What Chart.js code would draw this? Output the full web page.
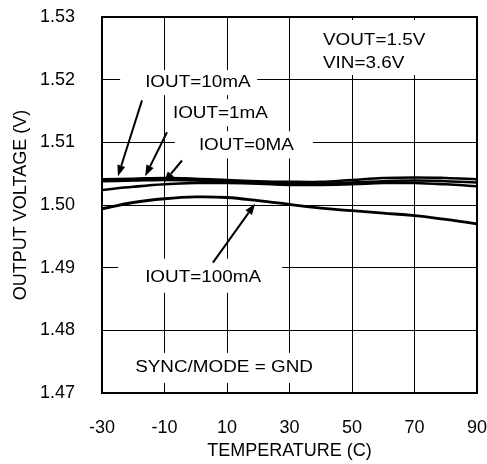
<!DOCTYPE html>
<html><head><meta charset="utf-8">
<script src="https://cdn.jsdelivr.net/npm/chart.js@4/dist/chart.umd.min.js"></script>
<style>html,body{margin:0;padding:0;background:#fff}canvas{display:block}</style>
</head><body>
<canvas id="c" width="487" height="464" style="width:487px;height:464px"></canvas>
<script>
const temperatures = [-30, -20, -10, 0, 10, 20, 30, 40, 50, 60, 70, 80, 90];
const iout10mA  = [1.5041, 1.5042, 1.5043, 1.5042, 1.5040, 1.5038, 1.5037, 1.5037, 1.5040, 1.5043, 1.5044, 1.5043, 1.5041];
const iout1mA   = [1.5038, 1.5039, 1.5040, 1.5039, 1.5037, 1.5035, 1.5033, 1.5034, 1.5036, 1.5038, 1.5039, 1.5038, 1.5036];
const iout0mA   = [1.5024, 1.5029, 1.5033, 1.5035, 1.5035, 1.5034, 1.5032, 1.5032, 1.5033, 1.5035, 1.5035, 1.5033, 1.5030];
const iout100mA = [1.4994, 1.5004, 1.5010, 1.5013, 1.5012, 1.5007, 1.5001, 1.4995, 1.4991, 1.4987, 1.4983, 1.4977, 1.4970];
const xTicks = [-30, -10, 10, 30, 50, 70, 90];
const yTicks = [1.47, 1.48, 1.49, 1.50, 1.51, 1.52, 1.53];

const FONT = '"Liberation Sans", Arial, Helvetica, sans-serif';

// annotation labels: anchor (left edge, middle) in data units, white box offsets in px
const labelDefs = [
  {text: 'VOUT=1.5V', t: 40.7, v: 1.52616, box: [-8, -21, 105, 55]},
  {text: 'VIN=3.6V', t: 40.7, v: 1.52264, box: null},
  {text: 'IOUT=10mA', t: -16.2, v: 1.5196, box: [-25, -12, 137, 25]},
  {text: 'IOUT=1mA', t: -7.3, v: 1.51464, box: [-5, -14, 107, 27]},
  {text: 'IOUT=0MA', t: 1.0, v: 1.50952, box: [-24, -14, 138, 27]},
  {text: 'IOUT=100mA', t: -16.2, v: 1.4884, box: [-27, -19, 164, 34]},
  {text: 'SYNC/MODE = GND', t: -19.4, v: 1.474, box: [-10, -15, 197, 30]}
];
const arrowDefs = [
  {from: [-17.2, 1.5167], to: [-24.9, 1.5046]},
  {from: [-9.2, 1.5116], to: [-16.2, 1.5046]},
  {from: [-4.4, 1.5071], to: [-10.2, 1.5036]},
  {from: [5.5, 1.4908], to: [19.0, 1.5002]}
];

const annot = {
  id: 'annot',
  afterDraw(chart) {
    const {ctx, chartArea: a, scales: {x, y}} = chart;
    ctx.save();
    ctx.strokeStyle = '#000';
    ctx.lineWidth = 2;
    ctx.strokeRect(a.left, a.top, a.right - a.left, a.bottom - a.top);
    ctx.font = '16px ' + FONT;
    ctx.textBaseline = 'middle';
    ctx.textAlign = 'left';
    labelDefs.forEach(d => {
      const px = x.getPixelForValue(d.t), py = y.getPixelForValue(d.v);
      if (d.box) {
        ctx.fillStyle = '#fff';
        ctx.fillRect(px + d.box[0], py + d.box[1], d.box[2], d.box[3]);
      }
    });
    labelDefs.forEach(d => {
      const px = x.getPixelForValue(d.t), py = y.getPixelForValue(d.v);
      ctx.save();
      ctx.translate(px, py);
      ctx.scale(1.18, 1);
      ctx.fillStyle = '#000';
      ctx.fillText(d.text, 0, 0);
      ctx.restore();
    });
    arrowDefs.forEach(d => {
      const x0 = x.getPixelForValue(d.from[0]), y0 = y.getPixelForValue(d.from[1]);
      const x1 = x.getPixelForValue(d.to[0]), y1 = y.getPixelForValue(d.to[1]);
      const ang = Math.atan2(y1 - y0, x1 - x0);
      const L = 11, W = 4;
      const bx = x1 - L * Math.cos(ang), by = y1 - L * Math.sin(ang);
      ctx.strokeStyle = '#000';
      ctx.lineWidth = 2;
      ctx.beginPath();
      ctx.moveTo(x0, y0);
      ctx.lineTo(bx, by);
      ctx.stroke();
      ctx.fillStyle = '#000';
      ctx.beginPath();
      ctx.moveTo(x1, y1);
      ctx.lineTo(bx + W * Math.sin(ang), by - W * Math.cos(ang));
      ctx.lineTo(bx - W * Math.sin(ang), by + W * Math.cos(ang));
      ctx.closePath();
      ctx.fill();
    });
    ctx.restore();
  }
};

function series(vals, w) {
  return {
    data: temperatures.map((t, i) => ({x: t, y: vals[i]})),
    borderColor: '#000', borderWidth: w, pointRadius: 0, tension: 0.4, fill: false
  };
}

new Chart(document.getElementById('c'), {
  type: 'line',
  data: {
    datasets: [
      series(iout10mA, 2.6),
      series(iout1mA, 2.6),
      series(iout0mA, 2.6),
      series(iout100mA, 2.8)
    ]
  },
  options: {
    responsive: false,
    animation: false,
    devicePixelRatio: 1,
    layout: {padding: {top: 17, right: 10, left: 0, bottom: 0}},
    plugins: {legend: {display: false}, tooltip: {enabled: false}},
    scales: {
      x: {
        type: 'linear', min: -30, max: 90,
        afterBuildTicks: s => { s.ticks = xTicks.map(v => ({value: v})); },
        afterFit: s => { s.height = 71; s.paddingLeft = 0; s.paddingRight = 0; },
        grid: {color: '#000', lineWidth: 1, drawTicks: false},
        border: {display: false},
        ticks: {color: '#000', font: {size: 18, family: FONT}, padding: 24, maxRotation: 0, autoSkip: false},
        title: {display: true, text: 'TEMPERATURE (C)', color: '#000', font: {size: 18, family: FONT}, padding: {top: 0, bottom: 2}}
      },
      y: {
        type: 'linear', min: 1.47, max: 1.53,
        afterBuildTicks: s => { s.ticks = yTicks.map(v => ({value: v})); },
        afterFit: s => { s.width = 102; s.paddingTop = 0; s.paddingBottom = 0; },
        grid: {color: '#000', lineWidth: 1, drawTicks: false},
        border: {display: false},
        ticks: {color: '#000', font: {size: 18, family: FONT}, padding: 27, autoSkip: false,
                callback: v => Number(v).toFixed(2)},
        title: {display: true, text: 'OUTPUT VOLTAGE (V)', color: '#000', font: {size: 18, family: FONT}, padding: {top: 10, bottom: 0}}
      }
    }
  },
  plugins: [annot]
});
</script>
</body></html>
